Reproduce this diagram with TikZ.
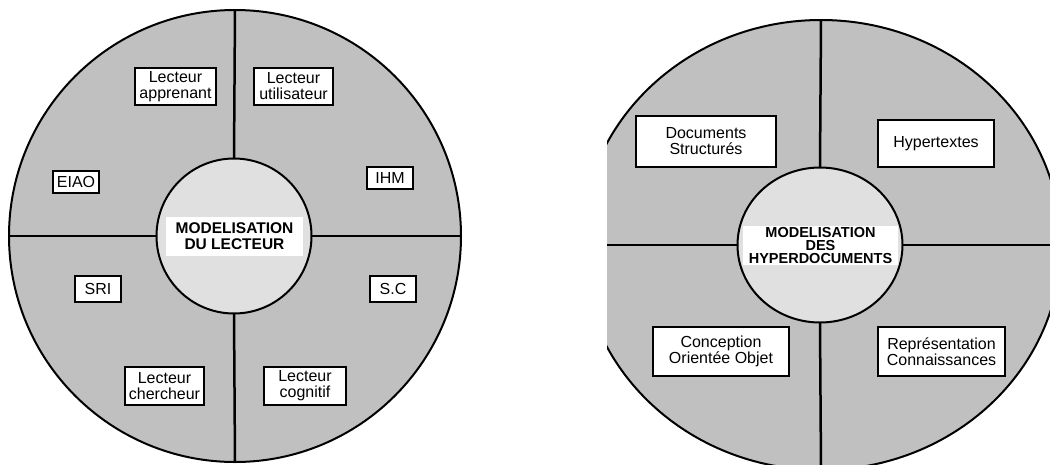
\documentclass[tikz,border=0pt]{standalone}
\usepackage{fontspec}
\setmainfont{Liberation Sans}
\usetikzlibrary{shapes.geometric}
\definecolor{outergray}{RGB}{192,192,192}
\definecolor{innergray}{RGB}{224,224,224}
\begin{document}
\begin{tikzpicture}[x=1pt,y=-1pt,
  outer/.style={draw=black,line width=2pt,fill=outergray,inner sep=0pt,outer sep=0pt},
  inner/.style={draw=black,line width=2pt,fill=innergray,inner sep=0pt,outer sep=0pt},
  divider/.style={line width=2.5pt},
  tag/.style={draw=black,line width=2.4pt,fill=white,inner sep=0pt,align=center,
    font=\fontsize{16}{16}\selectfont},
  title/.style={fill=white,inner sep=0pt,align=center}
]
\useasboundingbox (0,0) rectangle (1050,464);
% ---------- left diagram ----------
\node[outer,circle,minimum size=452pt] (L) at (235,236) {};
\node[inner,circle,minimum size=155pt] (Li) at (234,236) {};
\draw[divider] (Li.north) -- (L.north);
\draw[divider] (Li.south) -- (L.south);
\draw[divider] (Li.west) -- (L.west);
\draw[divider] (Li.east) -- (L.east);
\node[title,minimum width=137pt,minimum height=39pt,
  font=\fontsize{15.5}{16}\selectfont\bfseries] (Lt) at (234.5,236.5) {MODELISATION\\DU LECTEUR};
\node[tag,minimum width=81pt,minimum height=37pt] (appr) at (175.5,86.5) {Lecteur\\apprenant};
\node[tag,minimum width=79pt,minimum height=37pt] (util) at (293.5,86.5) {Lecteur\\utilisateur};
\node[tag,minimum width=46pt,minimum height=22pt] (eiao) at (76,182) {EIAO};
\node[tag,minimum width=46pt,minimum height=22pt] (ihm) at (390,178) {IHM};
\node[tag,minimum width=46pt,minimum height=26pt] (sri) at (98,289) {SRI};
\node[tag,minimum width=46pt,minimum height=26pt] (sc) at (393,289) {S.C};
\node[tag,minimum width=79pt,minimum height=38pt] (cherch) at (164.5,386) {Lecteur\\chercheur};
\node[tag,minimum width=82pt,minimum height=38pt] (cogn) at (305,386) {Lecteur\\cognitif};
% ---------- right diagram ----------
\begin{scope}
\clip (607,0) rectangle (1050,464);
\node[outer,ellipse,minimum width=480pt,minimum height=450pt] (R) at (821,245) {};
\node[inner,ellipse,minimum width=165pt,minimum height=155pt] (Ri) at (820,245) {};
\draw[divider] (Ri.north) -- (R.north);
\draw[divider] (Ri.south) -- (R.south);
\draw[divider] (Ri.west) -- (R.west);
\draw[divider] (Ri.east) -- (R.east);
\end{scope}
\node[title,minimum width=155pt,minimum height=39pt,
  font=\fontsize{14.5}{13}\selectfont\bfseries] (Rt) at (820.5,245.5) {MODELISATION\\DES\\HYPERDOCUMENTS};
\node[tag,minimum width=140pt,minimum height=51pt] (docs) at (706,141.5) {Documents\\Structurés};
\node[tag,minimum width=116pt,minimum height=47pt] (hyper) at (936,143.5) {Hypertextes};
\node[tag,minimum width=136pt,minimum height=49pt] (conc) at (721,351.5) {Conception\\Orientée Objet};
\node[tag,minimum width=127pt,minimum height=49pt] (repr) at (941.5,351.5) {Représentation\\Connaissances};
\end{tikzpicture}
\end{document}
